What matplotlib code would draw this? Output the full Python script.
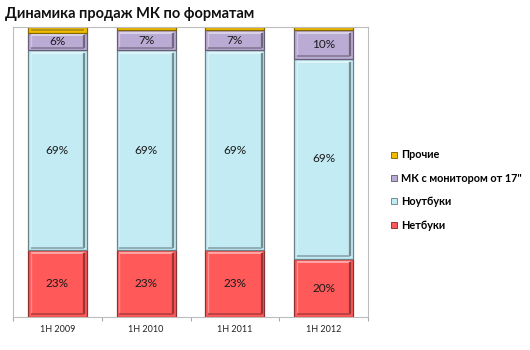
import matplotlib
matplotlib.use("Agg")
import matplotlib.pyplot as plt
from matplotlib.colors import to_rgb
from matplotlib.lines import Line2D
import numpy as np

plt.rcParams['font.family'] = ['Lato', 'DejaVu Sans']

periods = ["1H 2009", "1H 2010", "1H 2011", "1H 2012"]
series_names = ["Нетбуки", "Ноутбуки", "МК с монитором от 17\"", "Прочие"]
netbooks = [23, 23, 23, 20]
notebooks = [69, 69, 69, 69]
desktops17 = [6, 7, 7, 10]
others = [2, 1, 1, 1]
colors = ["#FF5959", "#C2EBF4", "#BAABD4", "#F0BC00"]
show_labels = [True, True, True, False]

values = [netbooks, notebooks, desktops17, others]


def shade(c, f):
    r, g, b = to_rgb(c)
    if f < 1:
        return (r * f, g * f, b * f)
    t = f - 1
    return (r + (1 - r) * t, g + (1 - g) * t, b + (1 - b) * t)


fig = plt.figure(figsize=(5.3, 3.5), dpi=100)
ax = fig.add_axes([13 / 530, 33 / 350, 355 / 530, 290 / 350])

x = np.arange(len(periods))
bottom = np.zeros(len(periods))
width = 0.665
handles = []
for vals, name, col, lab in zip(values, series_names, colors, show_labels):
    vals = np.array(vals, dtype=float)
    bars = ax.bar(x, vals, width, bottom=bottom, color=col,
                  edgecolor=shade(col, 0.55), linewidth=0.9, zorder=2)
    # bevel: light top/left edge, dark right/bottom edge
    for p in bars.patches:
        x0, y0 = p.get_x(), p.get_y()
        w, h = p.get_width(), p.get_height()
        dx, dy = 0.03, 0.9
        if h > 2 * dy:
            ax.plot([x0 + dx, x0 + w - dx], [y0 + h - dy, y0 + h - dy],
                    color=shade(col, 1.55), lw=1.2, zorder=3,
                    solid_capstyle='butt')
            ax.plot([x0 + dx, x0 + dx], [y0 + dy, y0 + h - dy],
                    color=shade(col, 1.3), lw=1.0, zorder=3,
                    solid_capstyle='butt')
            ax.plot([x0 + w - dx, x0 + w - dx], [y0 + dy, y0 + h - dy],
                    color=shade(col, 0.6), lw=1.6, zorder=3,
                    solid_capstyle='butt')
            ax.plot([x0 + dx, x0 + w - dx], [y0 + dy, y0 + dy],
                    color=shade(col, 0.7), lw=1.2, zorder=3,
                    solid_capstyle='butt')
    if lab:
        for xi, b, v in zip(x, bottom, vals):
            ax.text(xi, b + v / 2, f"{int(v)}%", ha='center', va='center',
                    fontsize=8.5, color='#1a1a1a', zorder=4)
    handles.append(Line2D([], [], marker='s', linestyle='none', markersize=5,
                          markerfacecolor=col,
                          markeredgecolor=shade(col, 0.6), markeredgewidth=0.7,
                          label=name))
    bottom += vals

ax.set_xlim(-0.5, len(periods) - 0.5)
ax.set_ylim(0, 100)
ax.set_yticks([])
ax.set_xticks(x)
ax.set_xticklabels(periods, fontsize=6.5, color='#222222')
ax.tick_params(axis='x', which='major', length=0, pad=6)
ax.set_xticks(np.arange(len(periods) + 1) - 0.5, minor=True)
ax.tick_params(axis='x', which='minor', length=3, color='#aaaaaa', width=0.8)
for s in ax.spines.values():
    s.set_color('#bdbdbd')
    s.set_linewidth(0.8)

fig.text(5 / 530, 1 - 14 / 350, "Динамика продаж МК по форматам",
         fontsize=10.5, fontweight='bold', ha='left', va='center',
         color='#111111')

leg = fig.legend(handles=handles[::-1], loc='center left',
                 bbox_to_anchor=(379 / 530, 1 - 190 / 350), frameon=False,
                 prop={'size': 7.8, 'weight': 'bold'}, handletextpad=0.1,
                 labelspacing=1.15, handlelength=1.0)

fig.savefig("out.png", dpi=100)
